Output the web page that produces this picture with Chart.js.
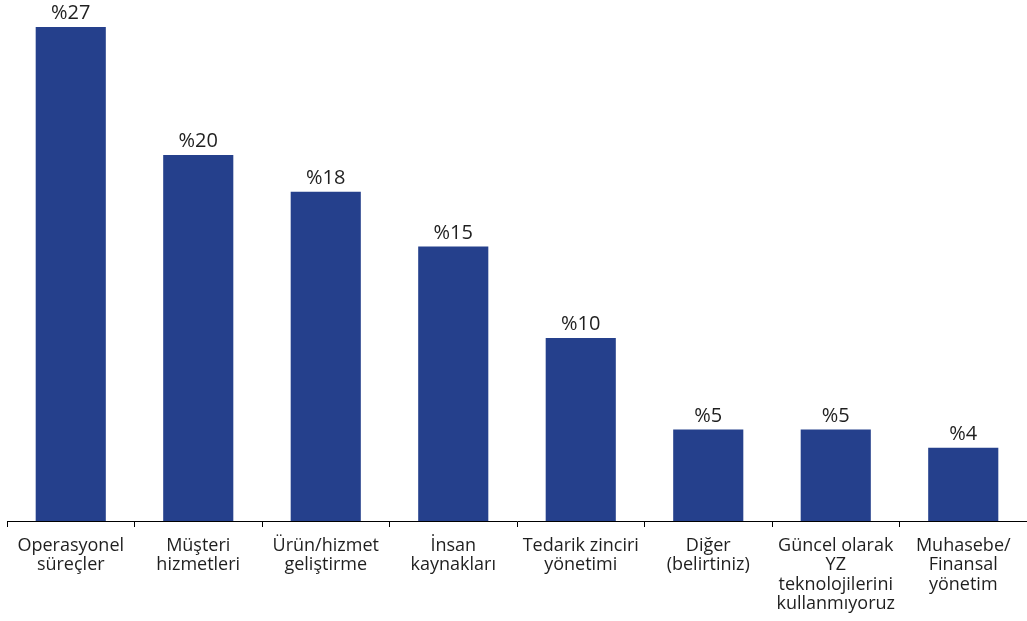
<!DOCTYPE html>
<html lang="tr">
<head>
<meta charset="utf-8">
<title>YZ kullanım alanları</title>
<script src="https://cdn.jsdelivr.net/npm/chart.js@4"></script>
<style>
    html, body { margin: 0; padding: 0; background: #ffffff; }
    #chart { display: block; }
</style>
</head>
<body>
<canvas id="chart" width="1027" height="621"></canvas>
<script>
// Kategoriler (çok satırlı etiketler)
const categories = [
    ['Operasyonel', 'süreçler'],
    ['Müşteri', 'hizmetleri'],
    ['Ürün/hizmet', 'geliştirme'],
    ['İnsan', 'kaynakları'],
    ['Tedarik zinciri', 'yönetimi'],
    ['Diğer', '(belirtiniz)'],
    ['Güncel olarak', 'YZ', 'teknolojilerini', 'kullanmıyoruz'],
    ['Muhasebe/', 'Finansal', 'yönetim']
];

// Yüzde değerleri
const shares = [27, 20, 18, 15, 10, 5, 5, 4];

const BAR_COLOR = '#25408c';
const TEXT_COLOR = '#1f1f1f';
const FONT = '"Open Sans", "Noto Sans", sans-serif';

// Çubukların üstüne "%27" biçiminde değer yazar
const valueLabels = {
    id: 'valueLabels',
    afterDatasetsDraw(chart) {
        const ctx = chart.ctx;
        const meta = chart.getDatasetMeta(0);
        ctx.save();
        ctx.font = '20px ' + FONT;
        ctx.fillStyle = TEXT_COLOR;
        ctx.textAlign = 'center';
        ctx.textBaseline = 'alphabetic';
        meta.data.forEach((bar, i) => {
            ctx.fillText('%' + shares[i], bar.x, bar.y - 8);
        });
        ctx.restore();
    }
};

const ctx = document.getElementById('chart').getContext('2d');
new Chart(ctx, {
    type: 'bar',
    data: {
        labels: categories,
        datasets: [{
            data: shares,
            backgroundColor: BAR_COLOR,
            borderWidth: 0,
            categoryPercentage: 1,
            barPercentage: 0.55
        }]
    },
    options: {
        responsive: false,
        animation: false,
        layout: { padding: { left: 7, right: 0, top: 27, bottom: 0 } },
        plugins: {
            legend: { display: false },
            tooltip: { enabled: false }
        },
        scales: {
            x: {
                afterFit(scale) { scale.height = 100; },
                border: { display: true, color: '#000000', width: 1 },
                grid: {
                    offset: true,
                    drawOnChartArea: false,
                    drawTicks: true,
                    tickLength: 6,
                    color: '#000000'
                },
                ticks: {
                    color: TEXT_COLOR,
                    font: { family: FONT, size: 18, lineHeight: 1.08 },
                    padding: 9,
                    maxRotation: 0,
                    autoSkip: false
                }
            },
            y: {
                display: false,
                min: 0,
                max: 27
            }
        }
    },
    plugins: [valueLabels]
});
</script>
</body>
</html>
